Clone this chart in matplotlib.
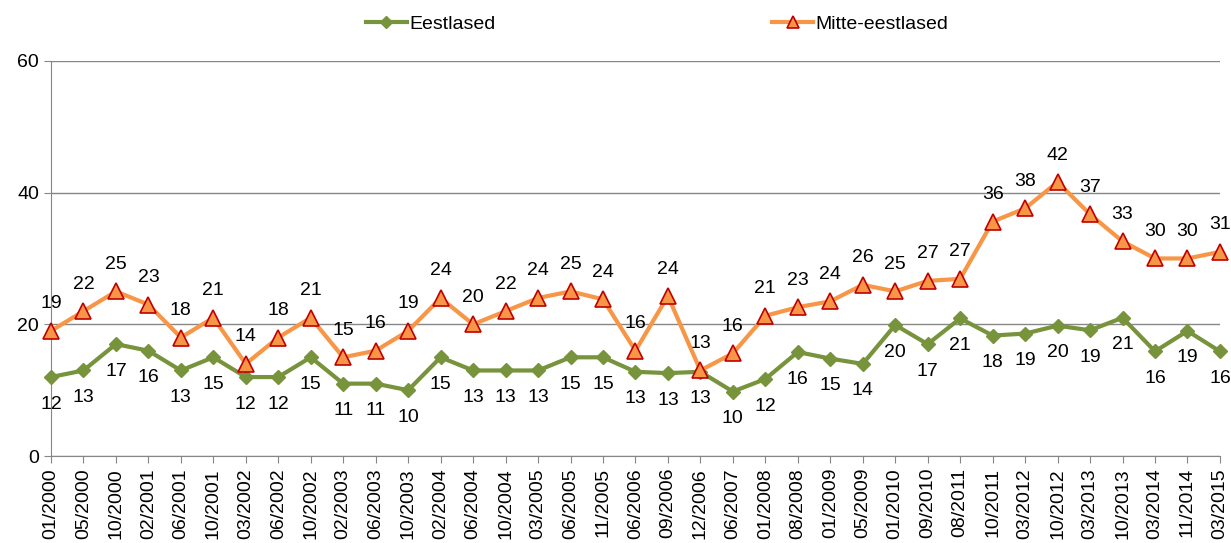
import matplotlib.pyplot as plt
import numpy as np

plt.rcParams['font.family'] = ['Liberation Sans', 'DejaVu Sans']

dates = ["01/2000", "05/2000", "10/2000", "02/2001", "06/2001", "10/2001", "03/2002",
         "06/2002", "10/2002", "02/2003", "06/2003", "10/2003", "02/2004", "06/2004",
         "10/2004", "03/2005", "06/2005", "11/2005", "06/2006", "09/2006", "12/2006",
         "06/2007", "01/2008", "08/2008", "01/2009", "05/2009", "01/2010", "09/2010",
         "08/2011", "10/2011", "03/2012", "10/2012", "03/2013", "10/2013", "03/2014",
         "11/2014", "03/2015"]

eestlased = [12, 13, 17, 16, 13, 15, 12, 12, 15, 11, 11, 10, 15, 13, 13, 13, 15, 15,
             12.8, 12.6, 12.8, 9.8, 11.7, 15.8, 14.8, 14, 19.9, 17, 20.9, 18.3, 18.6,
             19.8, 19.1, 21, 15.9, 19, 15.9]
mitte = [19, 22, 25, 23, 18, 21, 14, 18, 21, 15, 16, 19, 24, 20, 22, 24, 25, 23.8,
         16, 24.3, 13, 15.6, 21.3, 22.6, 23.5, 26, 25, 26.6, 26.9, 35.6, 37.6, 41.6,
         36.7, 32.6, 30, 30, 31]

green = '#77933C'
orange = '#F79646'

fig = plt.figure(figsize=(12.31, 5.43), dpi=100)
ax = fig.add_axes([0.0414, 0.160, 0.9496, 0.728])
x = np.arange(len(dates))

ax.plot(x, eestlased, color=green, lw=3, marker='D', ms=7, mfc=green, mec=green,
        label='Eestlased', zorder=3)
ax.plot(x, mitte, color=orange, lw=3, marker='^', ms=11, mfc=orange, mec='#C00000',
        mew=1.2, label='Mitte-eestlased', zorder=4)

for i in x:
    ax.annotate(f"{eestlased[i]:.0f}", (i, eestlased[i]), xytext=(0, -27),
                textcoords='offset pixels', ha='center', va='center', fontsize=14)
    ax.annotate(f"{mitte[i]:.0f}", (i, mitte[i]), xytext=(0, 27),
                textcoords='offset pixels', ha='center', va='center', fontsize=14)

ax.set_xlim(0, len(dates) - 1)
ax.set_ylim(0, 60)
ax.set_yticks([0, 20, 40, 60])
ax.set_xticks(x)
ax.set_xticklabels(dates, rotation=90, fontsize=14)
ax.tick_params(axis='y', labelsize=14, length=5, color='#868686')
ax.tick_params(axis='x', length=5, color='#868686')
ax.grid(axis='y', color='#868686', lw=1)
ax.set_axisbelow(True)
for s in ['top', 'right']:
    ax.spines[s].set_visible(False)
for s in ['left', 'bottom']:
    ax.spines[s].set_color('#868686')
for ln in ax.lines:
    ln.set_clip_on(False)

fig.legend(loc='center', bbox_to_anchor=(0.534, 0.956), ncol=2, frameon=False,
           fontsize=14, columnspacing=14.2, handlelength=2.1, handletextpad=0.15,
           markerscale=0.85)

plt.savefig('out.png', dpi=100)
